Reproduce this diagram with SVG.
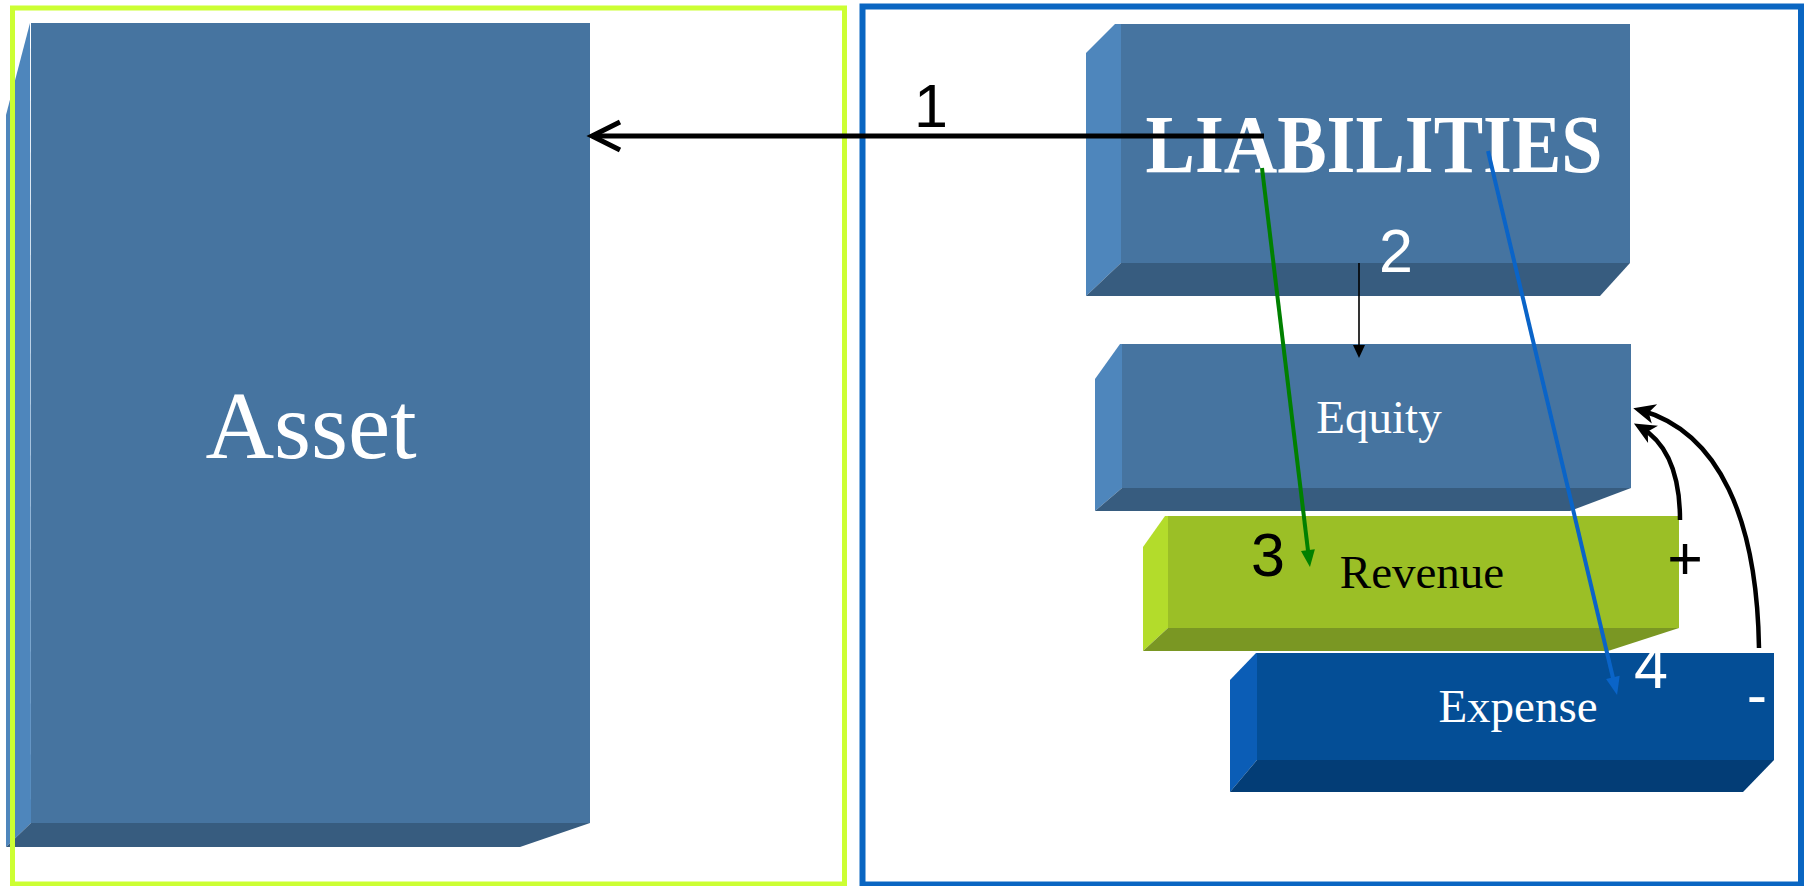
<svg xmlns="http://www.w3.org/2000/svg" width="1805" height="886" viewBox="0 0 1805 886">
<style>
.serif{font-family:"Liberation Serif","Times New Roman",serif;text-anchor:middle}
.sans{font-family:"Liberation Sans",Arial,sans-serif;text-anchor:middle;font-size:61px}
.bfront{fill:#4674a0}.bleft{fill:#4e86bc}.bbot{fill:#375c7f}
.gfront{fill:#9bbf26}.gleft{fill:#b3dc2b}.gbot{fill:#7a9723}
.dfront{fill:#044e96}.dleft{fill:#0b5db6}.dbot{fill:#033d76}
.conn{fill:none}
</style>
<defs>
<marker id="chev" markerUnits="userSpaceOnUse" markerWidth="40" markerHeight="40" viewBox="-34 -20 40 40" refX="0" refY="0" orient="auto" overflow="visible"><path d="M-28,-14 L0,0 L-28,14" fill="none" stroke="#000" stroke-width="5"/></marker>
<marker id="stealth" markerUnits="userSpaceOnUse" markerWidth="30" markerHeight="30" viewBox="-26 -15 30 30" refX="-7" refY="0" orient="auto" overflow="visible"><path d="M0,0 L-22,-10 L-16,0 L-22,10 Z" fill="#000"/></marker>
<marker id="triK" markerUnits="userSpaceOnUse" markerWidth="20" markerHeight="20" viewBox="-16 -10 20 20" refX="-6" refY="0" orient="auto" overflow="visible"><path d="M-13,-6 L0,0 L-13,6 Z" fill="#000"/></marker>
<marker id="triG" markerUnits="userSpaceOnUse" markerWidth="24" markerHeight="24" viewBox="-20 -12 24 24" refX="-8" refY="0" orient="auto" overflow="visible"><path d="M-17,-7 L0,0 L-17,7 Z" fill="#008000"/></marker>
<marker id="triB" markerUnits="userSpaceOnUse" markerWidth="24" markerHeight="24" viewBox="-20 -12 24 24" refX="-8" refY="0" orient="auto" overflow="visible"><path d="M-18,-7 L0,0 L-18,7 Z" fill="#0a64c8"/></marker>
</defs>

<g id="asset">
<polygon class="bleft" points="6,115 30,23 31,823 6,847"/>
<rect class="bfront" x="31" y="23" width="559" height="800"/>
<polygon class="bbot" points="31,823 590,823 520,847 6,847"/>
<text class="serif" x="311" y="458" font-size="95" fill="#fff">Asset</text>
</g>

<g id="liabilities">
<polygon class="bleft" points="1086,53 1115,24 1121,24 1121,263 1086,296"/>
<rect class="bfront" x="1121" y="24" width="509" height="239"/>
<polygon class="bbot" points="1121,263 1630,263 1600,296 1086,296"/>
<text class="serif" x="1374" y="172" font-size="82" font-weight="bold" fill="#fff" textLength="457" lengthAdjust="spacingAndGlyphs">LIABILITIES</text>
</g>

<g id="equity">
<polygon class="bleft" points="1095,379 1120,344 1122,344 1122,488 1095,511"/>
<rect class="bfront" x="1122" y="344" width="509" height="144"/>
<polygon class="bbot" points="1122,488 1631,488 1570,511 1095,511"/>
<text class="serif" x="1379" y="433" font-size="47" fill="#fff">Equity</text>
</g>

<g id="revenue">
<polygon class="gleft" points="1143,547 1165,516 1168,516 1168,628 1143,651"/>
<rect class="gfront" x="1168" y="516" width="511" height="112"/>
<polygon class="gbot" points="1168,628 1679,628 1608,651 1143,651"/>
<text class="serif" x="1422" y="588" font-size="47" fill="#000">Revenue</text>
</g>

<g id="expense">
<polygon class="dleft" points="1230,680 1256,653 1257,653 1257,760 1230,792"/>
<rect class="dfront" x="1257" y="653" width="517" height="107"/>
<polygon class="dbot" points="1257,760 1774,760 1743,792 1230,792"/>
<text class="serif" x="1518" y="722" font-size="47" fill="#fff">Expense</text>
</g>

<g id="frames" fill="none">
<rect x="12.5" y="8" width="832" height="876" stroke="#ccff33" stroke-width="5"/>
<rect x="862.5" y="6.5" width="938.5" height="878" stroke="#0a66c2" stroke-width="6"/>
</g>

<g id="connectors" class="conn">
<line x1="1264" y1="136" x2="592" y2="136" stroke="#000" stroke-width="5" marker-end="url(#chev)"/>
<line x1="1359" y1="263" x2="1359" y2="352" stroke="#000" stroke-width="1.6" marker-end="url(#triK)"/>
<line x1="1262" y1="168" x2="1309" y2="559" stroke="#008000" stroke-width="4" marker-end="url(#triG)"/>
<line x1="1488" y1="151" x2="1615.2" y2="687.2" stroke="#0a64c8" stroke-width="4" marker-end="url(#triB)"/>
<path d="M1680,520 C1680,475 1668,443 1640,427" stroke="#000" stroke-width="4.5" marker-end="url(#stealth)"/>
<path d="M1759,648 C1757,520 1720,432 1640,410" stroke="#000" stroke-width="4.5" marker-end="url(#stealth)"/>
</g>

<g id="labels">
<text class="sans" x="931" y="127" fill="#000">1</text>
<text class="sans" x="1396" y="272" fill="#fff">2</text>
<text class="sans" x="1268" y="576" fill="#000">3</text>
<text class="sans" x="1651" y="688" fill="#fff">4</text>
<text class="sans" x="1685" y="579" fill="#000">+</text>
<text class="sans" x="1757" y="716" fill="#fff" font-size="50">-</text>
</g>
</svg>
